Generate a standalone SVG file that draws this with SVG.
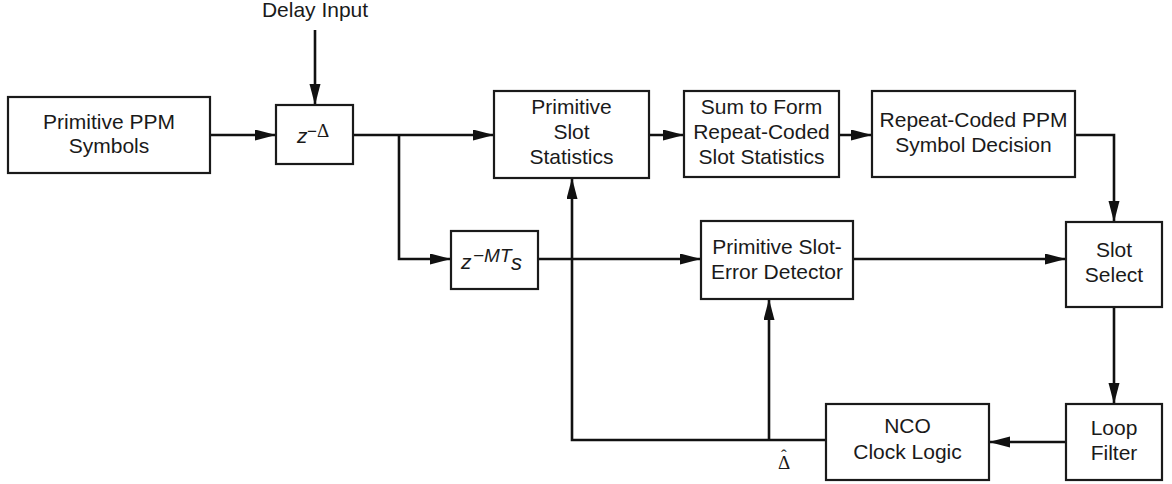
<svg xmlns="http://www.w3.org/2000/svg" width="1172" height="484" viewBox="0 0 1172 484">
  <style>
    .box { fill: #ffffff; stroke: #1a1a1a; stroke-width: 2.2; }
    .lbl { font-family: "Liberation Sans", Arial, sans-serif; font-size: 21px; fill: #1a1a1a; text-anchor: middle; }
    .math { font-family: "Liberation Sans", Arial, sans-serif; fill: #1a1a1a; font-style: italic; }
    .sym { font-family: "Liberation Serif", "Times New Roman", serif; fill: #1a1a1a; }
    .wire { fill: none; stroke: #111111; stroke-width: 2.6; }
    .arrow { marker-end: url(#head); }
  </style>
  <defs>
    <marker id="head" markerUnits="userSpaceOnUse" markerWidth="22" markerHeight="12" refX="21" refY="5.5" orient="auto">
      <path d="M0,0 L21,5.5 L0,11 Z" fill="#111111"/>
    </marker>
  </defs>
  <rect width="1172" height="484" fill="#ffffff"/>

  <!-- connectors -->
  <g id="connectors">
    <path class="wire arrow" d="M315,30 L315,105"/>
    <path class="wire arrow" d="M210,135 L276,135"/>
    <path class="wire arrow" d="M353,135 L494,135"/>
    <path class="wire arrow" d="M399,135 L399,259 L451,259"/>
    <path class="wire arrow" d="M649,135 L684,135"/>
    <path class="wire arrow" d="M839,135 L872,135"/>
    <path class="wire arrow" d="M1075,135 L1114,135 L1114,222"/>
    <path class="wire arrow" d="M538,259 L701,259"/>
    <path class="wire arrow" d="M853,259 L1066,259"/>
    <path class="wire arrow" d="M1114,307 L1114,404"/>
    <path class="wire arrow" d="M1066,442 L989,442"/>
    <path class="wire arrow" d="M826,440 L572,440 L572,178"/>
    <path class="wire arrow" d="M769,440 L769,299"/>
    <text class="lbl" x="315" y="17">Delay Input</text>
    <!-- estimated delay, delta with hat -->
    <text class="sym" x="778" y="469" font-size="19">Δ<tspan x="781" y="461" font-size="17">ˆ</tspan></text>
  </g>

  <!-- blocks -->
  <g id="ppm-symbols">
    <rect class="box" x="8" y="97" width="202" height="76"/>
    <text class="lbl" x="109" y="129">Primitive PPM</text>
    <text class="lbl" x="109" y="153">Symbols</text>
  </g>

  <g id="delay">
    <rect class="box" x="276" y="105" width="77" height="59"/>
    <text class="math" x="297" y="143" font-size="21">z<tspan x="307" y="137" font-size="17" font-style="normal">−</tspan><tspan class="sym" x="317" y="137" font-size="19" font-style="normal">Δ</tspan></text>
  </g>

  <g id="slot-stats">
    <rect class="box" x="494" y="91" width="155" height="87"/>
    <text class="lbl" x="571.5" y="114">Primitive</text>
    <text class="lbl" x="571.5" y="139">Slot</text>
    <text class="lbl" x="571.5" y="164">Statistics</text>
  </g>

  <g id="sum-stats">
    <rect class="box" x="684" y="91" width="155" height="86"/>
    <text class="lbl" x="761.5" y="114">Sum to Form</text>
    <text class="lbl" x="761.5" y="139">Repeat-Coded</text>
    <text class="lbl" x="761.5" y="164">Slot Statistics</text>
  </g>

  <g id="symbol-decision">
    <rect class="box" x="872" y="91" width="203" height="86"/>
    <text class="lbl" x="973.5" y="127">Repeat-Coded PPM</text>
    <text class="lbl" x="973.5" y="152">Symbol Decision</text>
  </g>

  <g id="delay-mts">
    <rect class="box" x="451" y="231" width="87" height="58"/>
    <text class="math" x="461" y="269" font-size="21">z<tspan x="473" y="262" font-size="19">−MT</tspan><tspan x="511" y="270" font-size="22">s</tspan></text>
  </g>

  <g id="slot-error">
    <rect class="box" x="701" y="221" width="152" height="78"/>
    <text class="lbl" x="777" y="254">Primitive Slot-</text>
    <text class="lbl" x="777" y="279">Error Detector</text>
  </g>

  <g id="slot-select">
    <rect class="box" x="1066" y="222" width="96" height="85"/>
    <text class="lbl" x="1114" y="257">Slot</text>
    <text class="lbl" x="1114" y="282">Select</text>
  </g>

  <g id="loop-filter">
    <rect class="box" x="1066" y="404" width="96" height="76"/>
    <text class="lbl" x="1114" y="435">Loop</text>
    <text class="lbl" x="1114" y="460">Filter</text>
  </g>

  <g id="nco">
    <rect class="box" x="826" y="404" width="163" height="76"/>
    <text class="lbl" x="907.5" y="433">NCO</text>
    <text class="lbl" x="907.5" y="459">Clock Logic</text>
  </g>
</svg>
